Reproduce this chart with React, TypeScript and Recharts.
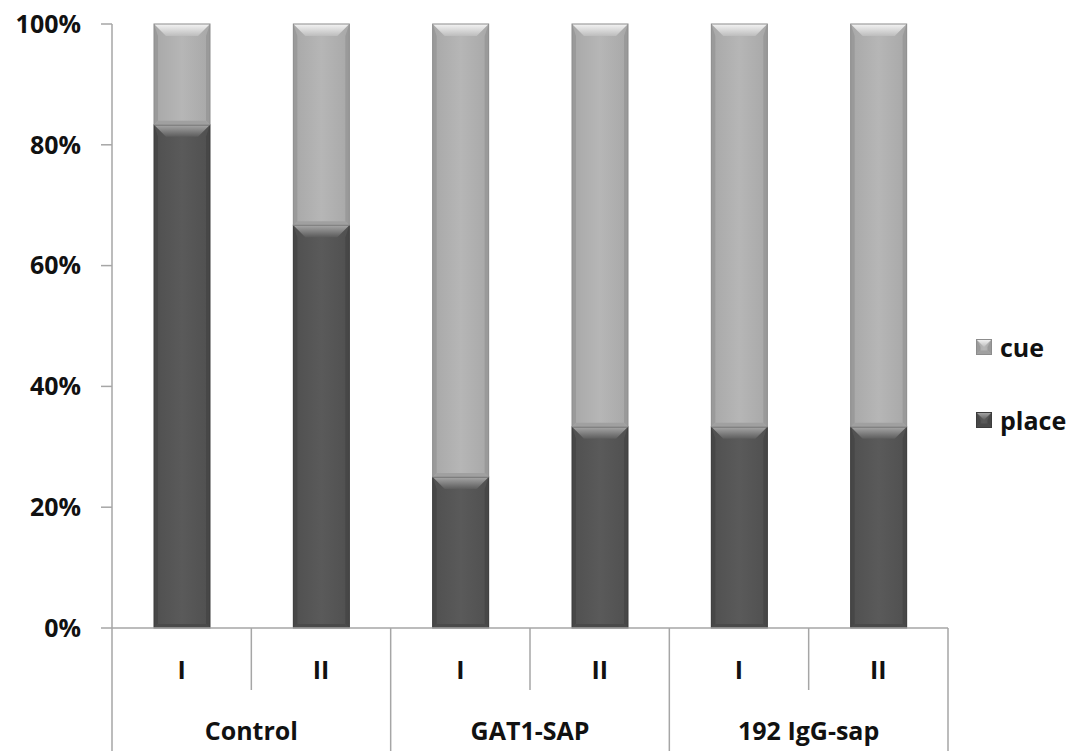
import { Bar, BarChart, XAxis, YAxis } from "recharts";

const groups = ["Control", "GAT1-SAP", "192 IgG-sap"];
const subLabels = ["I", "II", "I", "II", "I", "II"];
const placeValues = [83.3, 66.7, 25, 33.3, 33.3, 33.3];
const cueValues = [16.7, 33.3, 75, 66.7, 66.7, 66.7];
const yTicks = [0, 20, 40, 60, 80, 100];

const data = subLabels.map((sub, i) => ({
  key: `${groups[Math.floor(i / 2)]}-${sub}`,
  sub,
  group: groups[Math.floor(i / 2)],
  place: placeValues[i],
  cue: cueValues[i],
}));

const W = 1078;
const H = 751;
const M = { top: 24, right: 130, bottom: 0, left: 0 };
const Y_AXIS_W = 112;
const X_AXIS_H = 123;
const PLOT_BOTTOM = H - M.bottom - X_AXIS_H;
const PLOT_W = W - M.left - M.right - Y_AXIS_W;
const BAND = PLOT_W / data.length;
const FONT = "'Open Sans', sans-serif";
const AXIS = "#a6a6a6";

const palette = {
  cue: { side: "#9a9a9a", edge: "#8c8c8c", bottom: "#a0a0a0" },
  place: { side: "#474747", edge: "#3c3c3c", bottom: "#4a4a4a" },
};

function bevel(kind: "cue" | "place", x: number, y: number, w: number, h: number) {
  const c = palette[kind];
  const d = Math.min(12, h / 2);
  const s = 4;
  return (
    <g>
      <rect x={x} y={y} width={w} height={h} fill={`url(#body-${kind})`} />
      <polygon
        points={`${x},${y + h} ${x + s},${y + h - s} ${x + s},${y + d} ${x},${y}`}
        fill={c.side}
      />
      <polygon
        points={`${x + w},${y + h} ${x + w - s},${y + h - s} ${x + w - s},${y + d} ${x + w},${y}`}
        fill={c.side}
      />
      <polygon
        points={`${x},${y + h} ${x + w},${y + h} ${x + w - s},${y + h - s} ${x + s},${y + h - s}`}
        fill={c.bottom}
      />
      <polygon
        points={`${x},${y} ${x + w},${y} ${x + w - d},${y + d} ${x + d},${y + d}`}
        fill={`url(#top-${kind})`}
      />
      <rect x={x} y={y} width={w} height={h} fill="none" stroke={c.edge} strokeWidth={1} />
    </g>
  );
}

const CueShape = (p: any) => bevel("cue", p.x, p.y, p.width, p.height);
const PlaceShape = (p: any) => bevel("place", p.x, p.y, p.width, p.height);

function XTick(props: any) {
  const { x, payload } = props;
  const i: number = payload.index ?? props.index ?? 0;
  const y0 = PLOT_BOTTOM;
  const left = x - BAND / 2;
  const right = x + BAND / 2;
  return (
    <g>
      <text
        x={x}
        y={y0 + 51}
        textAnchor="middle"
        fontFamily={FONT}
        fontWeight={700}
        fontSize={25}
        fill="#111"
      >
        {data[i].sub}
      </text>
      {i % 2 === 0 ? (
        <>
          <line x1={left} x2={left} y1={y0} y2={H} stroke={AXIS} strokeWidth={1.5} />
          <line x1={right} x2={right} y1={y0} y2={y0 + 62} stroke={AXIS} strokeWidth={1.5} />
          <text
            x={right}
            y={y0 + 112}
            textAnchor="middle"
            fontFamily={FONT}
            fontWeight={700}
            fontSize={25}
            fill="#111"
          >
            {data[i].group}
          </text>
        </>
      ) : null}
      {i === data.length - 1 ? (
        <line x1={right} x2={right} y1={y0} y2={H} stroke={AXIS} strokeWidth={1.5} />
      ) : null}
    </g>
  );
}

function LegendBox() {
  const items: Array<{ kind: "cue" | "place"; label: string }> = [
    { kind: "cue", label: "cue" },
    { kind: "place", label: "place" },
  ];
  return (
    <div
      style={{
        position: "absolute",
        left: 976,
        top: 330,
        fontFamily: FONT,
        fontWeight: 700,
        fontSize: 25,
        color: "#111",
      }}
    >
      {items.map((it) => (
        <div
          key={it.kind}
          style={{ display: "flex", alignItems: "center", height: 34, marginBottom: 39 }}
        >
          <svg width={16} height={16} style={{ marginRight: 8 }}>
            {bevel(it.kind, 0.5, 0.5, 15, 15)}
          </svg>
          <span>{it.label}</span>
        </div>
      ))}
    </div>
  );
}

export default function App() {
  return (
    <div style={{ position: "absolute", left: 0, top: 0, width: W, height: H, background: "#fff" }}>
      <svg width={0} height={0} style={{ position: "absolute" }}>
        <defs>
          <linearGradient id="body-cue" x1="0" y1="0" x2="1" y2="0">
            <stop offset="0" stopColor="#a8a8a8" />
            <stop offset="0.5" stopColor="#b6b6b6" />
            <stop offset="1" stopColor="#a8a8a8" />
          </linearGradient>
          <linearGradient id="body-place" x1="0" y1="0" x2="1" y2="0">
            <stop offset="0" stopColor="#505050" />
            <stop offset="0.5" stopColor="#5a5a5a" />
            <stop offset="1" stopColor="#505050" />
          </linearGradient>
          <linearGradient id="top-cue" x1="0" y1="0" x2="0" y2="1">
            <stop offset="0" stopColor="#f4f4f4" />
            <stop offset="1" stopColor="#bdbdbd" />
          </linearGradient>
          <linearGradient id="top-place" x1="0" y1="0" x2="0" y2="1">
            <stop offset="0" stopColor="#a8a8a8" />
            <stop offset="1" stopColor="#5c5c5c" />
          </linearGradient>
        </defs>
      </svg>
      <BarChart width={W} height={H} data={data} margin={M} barSize={56}>
        <XAxis
          dataKey="key"
          height={X_AXIS_H}
          tickLine={false}
          axisLine={{ stroke: AXIS, strokeWidth: 1.5 }}
          tick={<XTick />}
          interval={0}
        />
        <YAxis
          width={Y_AXIS_W}
          domain={[0, 100]}
          ticks={yTicks}
          tickFormatter={(v: number) => `${v}%`}
          tickSize={11}
          tickMargin={20}
          axisLine={{ stroke: AXIS, strokeWidth: 1.5 }}
          tickLine={{ stroke: AXIS, strokeWidth: 1.5 }}
          tick={{ fontFamily: FONT, fontWeight: 700, fontSize: 25, fill: "#111" }}
        />
        <Bar dataKey="place" stackId="a" shape={PlaceShape} isAnimationActive={false} />
        <Bar dataKey="cue" stackId="a" shape={CueShape} isAnimationActive={false} />
      </BarChart>
      <LegendBox />
    </div>
  );
}
